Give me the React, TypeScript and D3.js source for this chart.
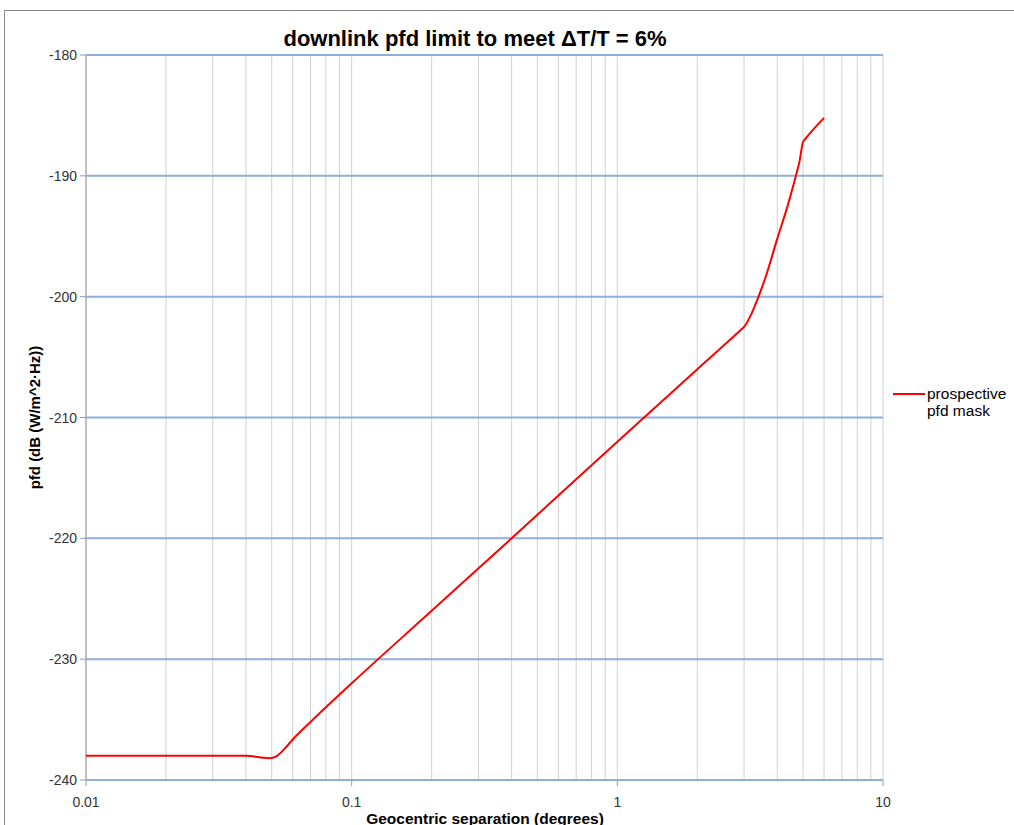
import React from 'react';
import * as d3 from 'd3';

// separation (degrees) and pfd mask (dB(W/m^2·Hz))
const separation = [
  0.01, 0.02, 0.03, 0.04, 0.046, 0.049, 0.052, 0.056, 0.06, 0.07, 0.1, 0.2, 0.4, 1, 2, 2.9,
  3, 3.2, 3.4, 3.6, 4, 4.4, 4.7, 4.85, 5, 5.1, 6,
];
const pfdMask = [
  -238, -238, -238, -238, -238.15, -238.2, -238.05, -237.4, -236.65, -235.2, -232, -226, -220, -212, -206, -202.8,
  -202.5, -201.4, -200, -198.5, -195.2, -192.3, -190, -188.8, -187.2, -186.95, -185.2,
];
const xTicks = [0.01, 0.1, 1, 10];
const xTickLabels = ['0.01', '0.1', '1', '10'];
const yTicks = [-180, -190, -200, -210, -220, -230, -240];

const W = 1014;
const H = 825;
const plot = { left: 86, right: 883, top: 55, bottom: 780 };

const App: React.FC = () => {
  const x = d3.scaleLog().domain([0.01, 10]).range([plot.left, plot.right]);
  const y = d3.scaleLinear().domain([-240, -180]).range([plot.bottom, plot.top]);

  // minor vertical grid: 1..9 in each decade
  const minor: number[] = [];
  [0.01, 0.1, 1].forEach(d => {
    for (let k = 1; k <= 9; k++) minor.push(d * k);
  });
  minor.push(10);

  const line = d3.line<number>()
    .x((_, i) => x(separation[i]))
    .y(d => y(d))
    .curve(d3.curveMonotoneX);

  const font = '"Liberation Sans", Arial, sans-serif';

  return (
    <svg width={W} height={H} style={{ position: 'absolute', left: 0, top: 0 }} fontFamily={font}>
      <rect x={0} y={0} width={W} height={H} fill="#fff" />
      <rect x={4.5} y={10.5} width={W + 10} height={H + 10} fill="none" stroke="#888" strokeWidth={1} />

      <text x={475} y={46} textAnchor="middle" fontSize={22} fontWeight="bold" fill="#000">
        downlink pfd limit to meet ΔT/T = 6%
      </text>

      {minor.map((v, i) => (
        <line key={'v' + i} x1={x(v)} x2={x(v)} y1={plot.top} y2={plot.bottom} stroke="#d0d0d0" strokeWidth={1} />
      ))}
      {xTicks.map((v, i) => (
        <line key={'xt' + i} x1={x(v)} x2={x(v)} y1={plot.bottom} y2={plot.bottom + 6} stroke="#999" strokeWidth={1} />
      ))}
      <line x1={plot.left} x2={plot.left} y1={plot.top} y2={plot.bottom} stroke="#999" strokeWidth={1} />
      {yTicks.map((v, i) => (
        <g key={'y' + i}>
          <line x1={plot.left} x2={plot.right} y1={y(v)} y2={y(v)} stroke="#8eaedb" strokeWidth={2} />
          <line x1={plot.left - 6} x2={plot.left} y1={y(v)} y2={y(v)} stroke="#999" strokeWidth={1} />
          <text x={plot.left - 9} y={y(v) + 5} textAnchor="end" fontSize={14} fill="#333">{v}</text>
        </g>
      ))}
      {xTicks.map((v, i) => (
        <text key={'xl' + i} x={x(v)} y={plot.bottom + 27} textAnchor="middle" fontSize={14} fill="#333">
          {xTickLabels[i]}
        </text>
      ))}

      <path d={line(pfdMask) || ''} fill="none" stroke="#ff0000" strokeWidth={2} />

      <text transform={`translate(40,${(plot.top + plot.bottom) / 2}) rotate(-90)`} textAnchor="middle"
        fontSize={15} fontWeight="bold" fill="#000">
        pfd (dB (W/m^2·Hz))
      </text>
      <text x={485} y={824} textAnchor="middle" fontSize={15.5} fontWeight="bold" fill="#000">
        Geocentric separation (degrees)
      </text>

      <line x1={893} x2={925} y1={394} y2={394} stroke="#ff0000" strokeWidth={2} />
      <text x={927} y={399} fontSize={15.5} fill="#000">prospective</text>
      <text x={927} y={416} fontSize={15.5} fill="#000">pfd mask</text>
    </svg>
  );
};

export default App;
